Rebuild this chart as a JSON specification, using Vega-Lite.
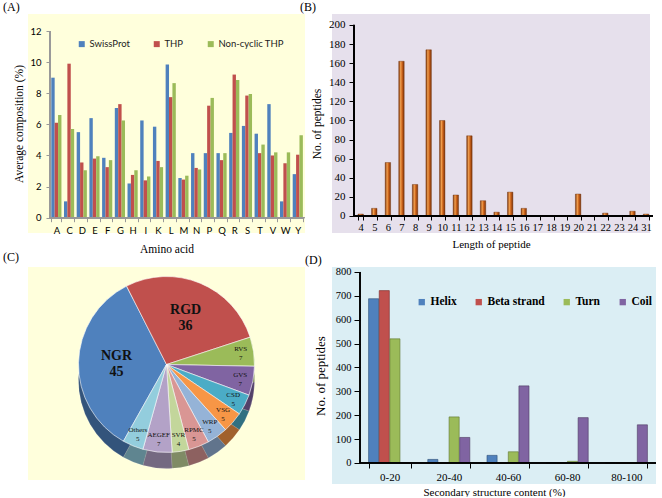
{
  "$schema": "https://vega.github.io/schema/vega-lite/v6.json",
  "background": "white",
  "padding": {"left": 3, "top": 1, "right": 0, "bottom": 0},
  "config": {
    "view": {"stroke": null},
    "title": {"font": "Liberation Serif", "fontSize": 12, "fontWeight": "normal", "anchor": "start", "frame": "group", "color": "#000"},
    "axis": {"grid": false, "domain": false, "labelOverlap": false, "labelColor": "#000", "titleColor": "#000", "titleFont": "Liberation Serif", "titleFontWeight": "normal", "labelFont": "Liberation Serif"}
  },
  "datasets": {
    "aa": [
      {"aa": "A", "SwissProt": 9.0, "THP": 6.1, "Non-cyclic THP": 6.6},
      {"aa": "C", "SwissProt": 1.05, "THP": 9.9, "Non-cyclic THP": 5.7},
      {"aa": "D", "SwissProt": 5.5, "THP": 3.55, "Non-cyclic THP": 3.05},
      {"aa": "E", "SwissProt": 6.4, "THP": 3.8, "Non-cyclic THP": 3.95},
      {"aa": "F", "SwissProt": 3.85, "THP": 3.25, "Non-cyclic THP": 3.7},
      {"aa": "G", "SwissProt": 7.05, "THP": 7.3, "Non-cyclic THP": 6.25},
      {"aa": "H", "SwissProt": 2.2, "THP": 2.75, "Non-cyclic THP": 3.05},
      {"aa": "I", "SwissProt": 6.25, "THP": 2.4, "Non-cyclic THP": 2.65},
      {"aa": "K", "SwissProt": 5.85, "THP": 3.65, "Non-cyclic THP": 3.25},
      {"aa": "L", "SwissProt": 9.85, "THP": 7.75, "Non-cyclic THP": 8.65},
      {"aa": "M", "SwissProt": 2.55, "THP": 2.45, "Non-cyclic THP": 2.7},
      {"aa": "N", "SwissProt": 4.15, "THP": 3.2, "Non-cyclic THP": 3.1},
      {"aa": "P", "SwissProt": 4.15, "THP": 7.2, "Non-cyclic THP": 7.7},
      {"aa": "Q", "SwissProt": 4.15, "THP": 3.7, "Non-cyclic THP": 4.15},
      {"aa": "R", "SwissProt": 5.45, "THP": 9.2, "Non-cyclic THP": 8.85},
      {"aa": "S", "SwissProt": 5.9, "THP": 7.85, "Non-cyclic THP": 7.95},
      {"aa": "T", "SwissProt": 5.4, "THP": 4.15, "Non-cyclic THP": 4.7},
      {"aa": "V", "SwissProt": 7.3, "THP": 4.0, "Non-cyclic THP": 4.2},
      {"aa": "W", "SwissProt": 1.05, "THP": 3.5, "Non-cyclic THP": 4.2},
      {"aa": "Y", "SwissProt": 2.8, "THP": 4.05, "Non-cyclic THP": 5.3}
    ],
    "len": [
      {"len": 4, "n": 2}, {"len": 5, "n": 8}, {"len": 6, "n": 56}, {"len": 7, "n": 162},
      {"len": 8, "n": 33}, {"len": 9, "n": 174}, {"len": 10, "n": 100}, {"len": 11, "n": 22},
      {"len": 12, "n": 84}, {"len": 13, "n": 16}, {"len": 14, "n": 4}, {"len": 15, "n": 25},
      {"len": 16, "n": 8}, {"len": 17, "n": 0}, {"len": 18, "n": 0}, {"len": 19, "n": 0},
      {"len": 20, "n": 23}, {"len": 21, "n": 0}, {"len": 22, "n": 3}, {"len": 23, "n": 0},
      {"len": 24, "n": 5}, {"len": 31, "n": 2}
    ],
    "motif": [
      {"rank": 1, "motif": "NGR", "n": 45},
      {"rank": 2, "motif": "RGD", "n": 36},
      {"rank": 3, "motif": "RVS", "n": 7},
      {"rank": 4, "motif": "GVS", "n": 7},
      {"rank": 5, "motif": "CSD", "n": 5},
      {"rank": 6, "motif": "VSG", "n": 5},
      {"rank": 7, "motif": "WRP", "n": 5},
      {"rank": 8, "motif": "RPMC", "n": 5},
      {"rank": 9, "motif": "SVR", "n": 4},
      {"rank": 10, "motif": "AEGEF", "n": 7},
      {"rank": 11, "motif": "Others", "n": 5}
    ],
    "ss": [
      {"range": "0-20", "Helix": 688, "Beta strand": 722, "Turn": 520, "Coil": 0},
      {"range": "20-40", "Helix": 15, "Beta strand": 0, "Turn": 193, "Coil": 107},
      {"range": "40-60", "Helix": 32, "Beta strand": 0, "Turn": 47, "Coil": 323},
      {"range": "60-80", "Helix": 0, "Beta strand": 0, "Turn": 7, "Coil": 190},
      {"range": "80-100", "Helix": 0, "Beta strand": 0, "Turn": 0, "Coil": 160}
    ]
  },
  "spacing": -4,
  "resolve": {
    "scale": {"color": "independent", "xOffset": "independent", "stroke": "independent", "theta": "independent"},
    "legend": {"color": "independent", "stroke": "independent"}
  },
  "vconcat": [
    {
      "spacing": -5,
      "resolve": {
        "scale": {"color": "independent", "xOffset": "independent", "stroke": "independent", "theta": "independent"},
        "legend": {"color": "independent", "stroke": "independent"}
      },
      "hconcat": [
        {
          "width": 277,
          "height": 219,
          "view": {"fill": "#FFFFDC", "stroke": null},
          "title": {"text": "(A)", "dx": -25, "offset": 0},
          "data": {"name": "aa"},
          "layer": [
            {
              "transform": [{"fold": ["SwissProt", "THP", "Non-cyclic THP"], "as": ["series", "value"]}],
              "mark": {"type": "bar"},
              "encoding": {
                "x": {
                  "field": "aa", "type": "nominal",
                  "scale": {"paddingInner": 0.2, "paddingOuter": 1, "align": 0.916},
                  "title": "Amino acid",
                  "axis": {"offset": -15.3, "labelAngle": 0, "labelFont": "Lato", "labelFontSize": 9.5, "tickBand": "extent", "tickSize": 4, "tickColor": "#999", "labelPadding": 4, "titleFontSize": 11.5, "titlePadding": 8}
                },
                "xOffset": {"field": "series", "type": "nominal", "sort": ["SwissProt", "THP", "Non-cyclic THP"]},
                "y": {
                  "field": "value", "type": "quantitative",
                  "scale": {"domain": [-0.983, 13.093], "nice": false, "zero": false},
                  "title": "Average composition (%)",
                  "axis": {"offset": -22, "values": [0, 2, 4, 6, 8, 10, 12], "labelFont": "Lato", "labelFontSize": 9.5, "tickSize": 4, "tickColor": "#999", "labelPadding": 5, "titleFontSize": 11.5, "titlePadding": 5}
                },
                "color": {
                  "field": "series", "type": "nominal",
                  "scale": {"domain": ["SwissProt", "THP", "Non-cyclic THP"], "range": ["#4F81BD", "#C0504D", "#9BBB59"]},
                  "legend": {"orient": "none", "legendX": 49, "legendY": 25, "direction": "horizontal", "title": null, "symbolType": "square", "symbolSize": 36, "symbolStrokeWidth": 0, "labelFont": "Lato", "labelFontSize": 9.5, "labelColor": "#222", "columnPadding": 22, "labelOffset": 3}
                }
              }
            },
            {
              "mark": {"type": "rule", "color": "#999", "strokeWidth": 1},
              "encoding": {
                "x": {"datum": "A", "bandPosition": -0.125},
                "x2": {"datum": "Y", "bandPosition": 1.125},
                "y": {"datum": 0, "axis": {"values": [0, 2, 4, 6, 8, 10, 12]}}
              }
            },
            {
              "mark": {"type": "rule", "color": "#999", "strokeWidth": 1},
              "encoding": {
                "x": {"datum": "A", "bandPosition": -0.125},
                "y": {"datum": 0, "axis": {"values": [0, 2, 4, 6, 8, 10, 12]}},
                "y2": {"datum": 12}
              }
            }
          ]
        },
        {
          "width": 318,
          "height": 219,
          "view": {"fill": "#E6E0EC", "stroke": null},
          "title": {"text": "(B)", "dx": -32, "offset": 0},
          "data": {"name": "len"},
          "layer": [
            {
              "mark": {
                "type": "bar",
                "color": {"gradient": "linear", "x1": 0, "x2": 1, "y1": 0, "y2": 0, "stops": [
                  {"offset": 0, "color": "#7A3308"},
                  {"offset": 0.35, "color": "#F0A050"},
                  {"offset": 0.6, "color": "#D0661C"},
                  {"offset": 1, "color": "#7A3308"}
                ]},
                "stroke": "#6E2E06",
                "strokeWidth": 0.4
              },
              "encoding": {
                "x": {
                  "field": "len", "type": "ordinal",
                  "scale": {"paddingInner": 0.6, "paddingOuter": 1, "align": 0.956},
                  "title": "Length of peptide",
                  "axis": {"offset": -17, "labelAngle": 0, "labelFontSize": 10.5, "tickBand": "extent", "tickSize": 4, "tickColor": "#000", "labelPadding": 2, "titleFontSize": 11, "titlePadding": 6}
                },
                "y": {
                  "field": "n", "type": "quantitative",
                  "scale": {"domain": [-17.8, 211.5], "nice": false, "zero": false},
                  "title": "No. of peptides",
                  "axis": {"offset": -22, "values": [0, 20, 40, 60, 80, 100, 120, 140, 160, 180, 200], "labelFontSize": 11, "tickSize": 5, "tickColor": "#000", "labelPadding": 4, "titleFontSize": 11.5, "titlePadding": 6}
                }
              }
            },
            {
              "mark": {"type": "rule", "color": "#000", "strokeWidth": 1},
              "encoding": {
                "x": {"datum": 4, "type": "ordinal", "bandPosition": -0.75},
                "x2": {"datum": 31, "bandPosition": 1.75},
                "y": {"datum": 0, "axis": {"values": [0, 20, 40, 60, 80, 100, 120, 140, 160, 180, 200]}}
              }
            },
            {
              "mark": {"type": "rule", "color": "#000", "strokeWidth": 1},
              "encoding": {
                "x": {"datum": 4, "type": "ordinal", "bandPosition": -0.75},
                "y": {"datum": 0, "axis": {"values": [0, 20, 40, 60, 80, 100, 120, 140, 160, 180, 200]}},
                "y2": {"datum": 200}
              }
            }
          ]
        }
      ]
    },
    {
      "spacing": 0,
      "resolve": {
        "scale": {"color": "independent", "xOffset": "independent", "stroke": "independent", "theta": "independent"},
        "legend": {"color": "independent", "stroke": "independent"}
      },
      "hconcat": [
        {
          "width": 277,
          "height": 213,
          "view": {"fill": "#FFFFDC", "stroke": null},
          "title": {"text": "(C)", "dx": -25, "offset": 3},
          "data": {"name": "motif"},
          "encoding": {
            "theta": {"field": "n", "type": "quantitative", "stack": true, "scale": {"range": [-2.63, 3.6532]}},
            "order": {"field": "rank", "type": "quantitative"}
          },
          "layer": [
            {
              "mark": {"type": "arc", "outerRadius": 88, "yOffset": 7, "stroke": "#ffffff", "strokeWidth": 0.3},
              "encoding": {
                "color": {"field": "motif", "type": "nominal", "legend": null,
                  "scale": {"domain": ["NGR", "RGD", "RVS", "GVS", "CSD", "VSG", "WRP", "RPMC", "SVR", "AEGEF", "Others"],
                            "range": ["#4F81BD", "#C0504D", "#9BBB59", "#8064A2", "#4BACC6", "#F79646", "#95B3D7", "#D99694", "#C3D69B", "#B3A2C7", "#93CDDD"]}}
              }
            },
            {
              "mark": {"type": "arc", "outerRadius": 88, "yOffset": 7, "fill": "#000000", "fillOpacity": 0.35},
              "encoding": {}
            },
            {
              "mark": {"type": "arc", "outerRadius": 88, "yOffset": -9, "stroke": "#ffffff", "strokeWidth": 0.6},
              "encoding": {
                "color": {"field": "motif", "type": "nominal", "legend": null}
              }
            },
            {
              "mark": {"type": "text", "radius": 50, "yOffset": -9, "dy": -8, "font": "Liberation Serif", "fontSize": 14, "fontWeight": "bold", "fill": "#111"},
              "encoding": {"text": {"condition": {"test": "datum.n > 20", "field": "motif"}, "value": ""}}
            },
            {
              "mark": {"type": "text", "radius": 50, "yOffset": -9, "dy": 8, "font": "Liberation Serif", "fontSize": 14, "fontWeight": "bold", "fill": "#111"},
              "encoding": {"text": {"condition": {"test": "datum.n > 20", "field": "n"}, "value": ""}}
            },
            {
              "mark": {"type": "text", "radius": 75, "yOffset": -9, "dy": -4, "font": "Liberation Serif", "fontSize": 7, "fill": "#111"},
              "encoding": {"text": {"condition": {"test": "datum.n <= 20", "field": "motif"}, "value": ""}}
            },
            {
              "mark": {"type": "text", "radius": 75, "yOffset": -9, "dy": 5, "font": "Liberation Serif", "fontSize": 7, "fill": "#111"},
              "encoding": {"text": {"condition": {"test": "datum.n <= 20", "field": "n"}, "value": ""}}
            }
          ]
        },
        {
          "width": 324,
          "height": 217,
          "view": {"fill": "#DBEEF4", "stroke": null},
          "title": {"text": "(D)", "dx": -27, "offset": 0},
          "data": {"name": "ss"},
          "layer": [
            {
              "transform": [{"fold": ["Helix", "Beta strand", "Turn", "Coil"], "as": ["type", "count"]}],
              "mark": {"type": "bar", "strokeWidth": 0.6},
              "encoding": {
                "x": {
                  "field": "range", "type": "nominal",
                  "scale": {"paddingInner": 0.29, "paddingOuter": 0.3815, "align": 0.81},
                  "title": "Secondary structure content (%)",
                  "axis": {"offset": -21, "labelAngle": 0, "labelFontSize": 11, "tickBand": "extent", "tickSize": 5, "tickColor": "#000", "labelPadding": 3, "titleFontSize": 11, "titlePadding": 4}
                },
                "xOffset": {"field": "type", "type": "nominal", "sort": ["Helix", "Beta strand", "Turn", "Coil"], "scale": {"paddingInner": 0.05}},
                "y": {
                  "field": "count", "type": "quantitative",
                  "scale": {"domain": [-87.96, 820.9], "nice": false, "zero": false},
                  "title": "No. of peptides",
                  "axis": {"offset": -28, "values": [0, 100, 200, 300, 400, 500, 600, 700, 800], "labelFontSize": 10.5, "tickSize": 6, "tickColor": "#000", "labelPadding": 3, "titleFontSize": 13, "titlePadding": 8}
                },
                "color": {
                  "field": "type", "type": "nominal",
                  "scale": {"domain": ["Helix", "Beta strand", "Turn", "Coil"], "range": ["#4F81BD", "#C0504D", "#9BBB59", "#8064A2"]},
                  "legend": {"orient": "none", "legendX": 84, "legendY": 29, "direction": "horizontal", "title": null, "symbolType": "square", "symbolSize": 40, "symbolStrokeWidth": 0, "labelFont": "Liberation Serif", "labelFontWeight": "bold", "labelFontSize": 11.5, "labelColor": "#000", "columnPadding": 16, "labelOffset": 3}
                },
                "stroke": {
                  "field": "type", "type": "nominal", "legend": null,
                  "scale": {"domain": ["Helix", "Beta strand", "Turn", "Coil"], "range": ["#2C4D75", "#772C2A", "#5F7530", "#4D3B62"]}
                }
              }
            },
            {
              "mark": {"type": "rule", "color": "#000", "strokeWidth": 1},
              "encoding": {
                "x": {"datum": "0-20", "bandPosition": -0.204},
                "x2": {"datum": "80-100", "bandPosition": 1.204},
                "y": {"datum": 0, "axis": {"values": [0, 100, 200, 300, 400, 500, 600, 700, 800]}}
              }
            },
            {
              "mark": {"type": "rule", "color": "#000", "strokeWidth": 1},
              "encoding": {
                "x": {"datum": "0-20", "bandPosition": -0.204},
                "y": {"datum": 0, "axis": {"values": [0, 100, 200, 300, 400, 500, 600, 700, 800]}},
                "y2": {"datum": 800}
              }
            }
          ]
        }
      ]
    }
  ]
}
